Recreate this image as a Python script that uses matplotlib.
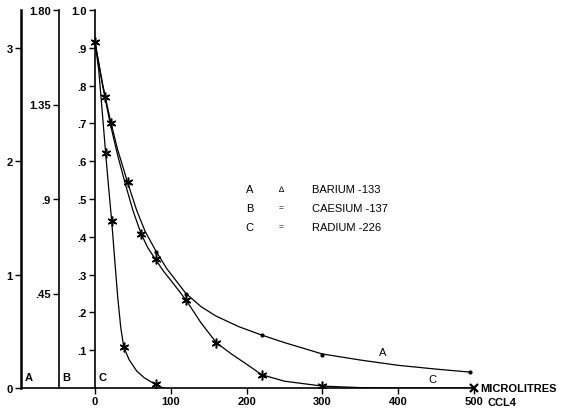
import matplotlib
matplotlib.use("Agg")
import matplotlib.pyplot as plt

plt.rcParams['font.family'] = ['Liberation Sans', 'DejaVu Sans']

# curve A (barium-133)
xa = [0, 10, 20, 30, 43, 55, 66, 81, 95, 120, 140, 160, 190, 220, 250, 300, 350, 400, 450, 495]
ya = [0.915, 0.805, 0.71, 0.63, 0.544, 0.47, 0.415, 0.36, 0.315, 0.25, 0.215, 0.19, 0.162, 0.14, 0.12, 0.09, 0.074, 0.06, 0.05, 0.042]
# curve B (caesium-137)
xb = [0, 10, 20, 30, 40, 50, 61, 70, 80, 90, 100, 120, 140, 160, 180, 200, 220, 250, 300, 350, 400, 500]
yb = [0.915, 0.80, 0.70, 0.615, 0.54, 0.47, 0.407, 0.37, 0.34, 0.31, 0.285, 0.233, 0.172, 0.12, 0.09, 0.063, 0.035, 0.018, 0.005, 0.001, 0.0, 0.0]
# curve C (radium-226)
xc = [0, 5, 10, 14, 18, 22, 26, 30, 34, 38, 45, 55, 65, 81, 90]
yc = [0.915, 0.84, 0.72, 0.623, 0.53, 0.443, 0.34, 0.24, 0.16, 0.108, 0.075, 0.045, 0.027, 0.008, 0.0]

# measured points
star_x = [0, 12.7, 21, 43, 61, 80, 120, 160, 220, 300, 14, 22, 38, 81]
star_y = [0.915, 0.77, 0.70, 0.544, 0.407, 0.34, 0.233, 0.12, 0.035, 0.005, 0.623, 0.443, 0.108, 0.01]
dot_x = [81, 120, 220, 300, 495]
dot_y = [0.36, 0.25, 0.14, 0.088, 0.042]

main_ticks = [0.1, 0.2, 0.3, 0.4, 0.5, 0.6, 0.7, 0.8, 0.9, 1.0]
main_labels = ['.1', '.2', '.3', '.4', '.5', '.6', '.7', '.8', '.9', '1.0']
a_ticks = [0, 1, 2, 3]
b_ticks = [0.45, 0.9, 1.35, 1.80]
b_labels = ['.45', '.9', '1.35', '1.80']
x_ticks = [0, 100, 200, 300, 400, 500]
legend_keys = ['A', 'B', 'C']
legend_syms = ['\u2206', '=', '=']
legend_names = ['BARIUM -133', 'CAESIUM -137', 'RADIUM -226']

W, H = 567, 414
fig = plt.figure(figsize=(W / 100, H / 100), dpi=100)
bot, top = (H - 389) / H, (H - 11) / H
fs = 8

# main axes spans from the A scale (px 21) to x=500 (px 474); C scale sits at x=0 (px 95)
ax = fig.add_axes([21 / W, bot, (474 - 21) / W, top - bot])
ax.set_xlim(-97.6, 500)
ax.set_ylim(0, 1.0)
for s in ['top', 'right']:
    ax.spines[s].set_visible(False)
ax.spines['left'].set_position(('data', 0))
ax.spines['left'].set_linewidth(1.2)
ax.spines['bottom'].set_linewidth(1.2)
ax.set_yticks(main_ticks)
ax.set_yticklabels(main_labels)
ax.set_xticks(x_ticks)
ax.set_xticklabels([str(t) for t in x_ticks])
ax.tick_params(length=4, width=1, labelsize=fs, pad=2)
ax.patch.set_visible(False)

lc = 'black'
ax.plot(xa, ya, color=lc, lw=0.9)
ax.plot(xb, yb, color=lc, lw=0.9)
ax.plot(xc, yc, color=lc, lw=0.9)
ax.plot(star_x, star_y, ls='none', marker=(6, 2, 0), ms=7, mew=1.1, color=lc)
ax.plot(dot_x, dot_y, ls='none', marker='o', ms=2, color=lc)
ax.plot([500], [0], ls='none', marker='x', ms=6, mew=1.6, color=lc, clip_on=False)

# axis letters at bottom
ax.text(-87, 0.015, 'A', fontsize=fs, fontweight='bold', ha='center', va='bottom')
ax.text(-38, 0.015, 'B', fontsize=fs, fontweight='bold', ha='center', va='bottom')
ax.text(10.5, 0.015, 'C', fontsize=fs, fontweight='bold', ha='center', va='bottom')

# curve labels
ax.text(380, 0.095, 'A', fontsize=fs, ha='center', va='center')
ax.text(445, 0.024, 'C', fontsize=fs, ha='center', va='center')

# legend text
for i, (k, s, n) in enumerate(zip(legend_keys, legend_syms, legend_names)):
    yy = 0.526 - 0.05 * i
    ax.text(204, yy, k, fontsize=fs, ha='center', va='center')
    ax.text(246, yy, s, fontsize=6, ha='center', va='center')
    ax.text(286, yy, n, fontsize=fs, ha='left', va='center')

ax.text(508, 0.0, 'MICROLITRES', fontsize=fs, fontweight='bold', ha='left', va='center', clip_on=False)
ax.text(518, -0.038, 'CCL4', fontsize=fs, fontweight='bold', ha='left', va='center', clip_on=False)

# extra scales A and B
def side_axis(xpx, ymax, ticks, labels, lw):
    a = fig.add_axes([xpx / W, bot, 0.001, top - bot])
    a.set_ylim(0, ymax)
    a.set_xticks([])
    for s in ['top', 'right', 'bottom']:
        a.spines[s].set_visible(False)
    a.spines['left'].set_linewidth(lw)
    a.set_yticks(ticks)
    a.set_yticklabels(labels)
    a.tick_params(length=4, width=1, labelsize=fs, pad=2)
    a.patch.set_visible(False)
    return a

side_axis(21, 10 / 3, a_ticks, [str(t) for t in a_ticks], 1.8)
side_axis(59, 1.8, b_ticks, b_labels, 1.2)

for a in fig.axes:
    for lab in a.get_xticklabels() + a.get_yticklabels():
        lab.set_fontweight('bold')

fig.savefig('out.png', dpi=100)
